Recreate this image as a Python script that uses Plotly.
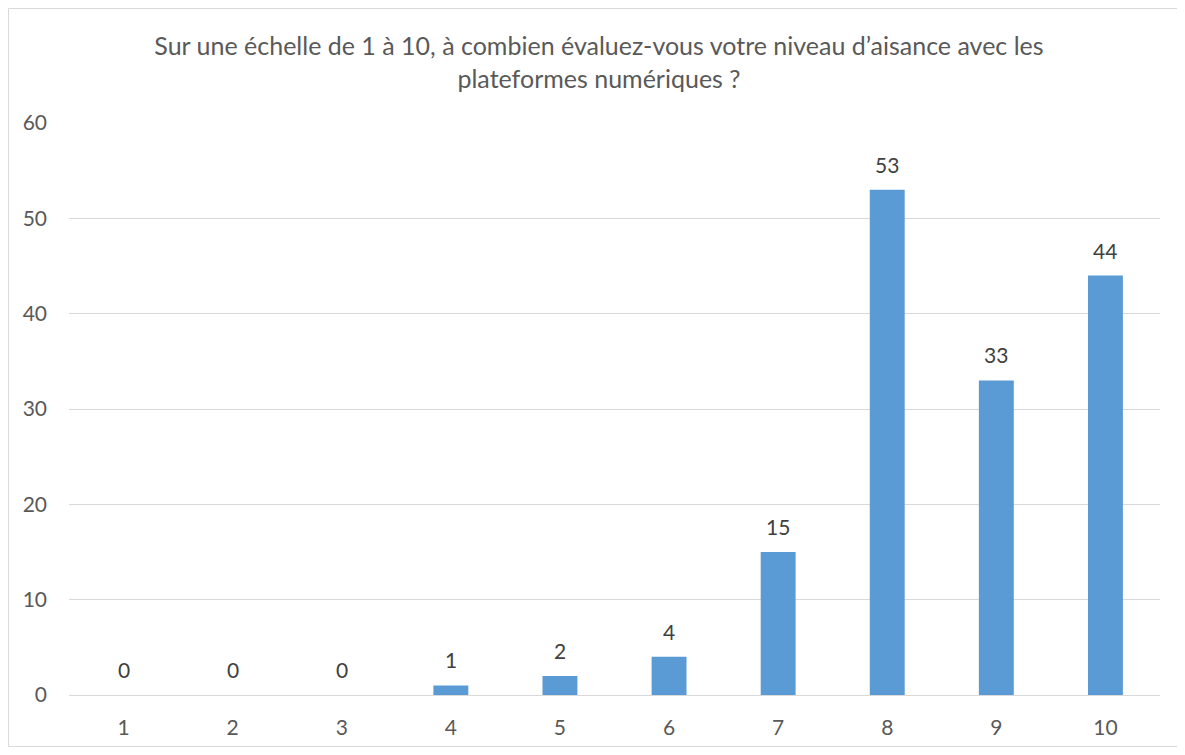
import plotly.graph_objects as go

categories = ["1", "2", "3", "4", "5", "6", "7", "8", "9", "10"]
values = [0, 0, 0, 1, 2, 4, 15, 53, 33, 44]
title_text = "Sur une échelle de 1 à 10, à combien évaluez-vous votre niveau d’aisance avec les<br>plateformes numériques ?"

W, H = 1174, 739
ml, mr, mt, mb = 61, 22, 115, 52
pw, ph = W - ml - mr, H - mt - mb

fig = go.Figure(go.Bar(
    x=categories, y=values,
    marker=dict(color="#5B9BD5", line=dict(width=0)),
    hoverinfo="x+y",
))

annotations = [
    dict(x=i, y=v, xref="x", yref="y", text=str(v), showarrow=False,
         yanchor="bottom", yshift=11,
         font=dict(family="Lato", size=21, color="#404040"))
    for i, v in enumerate(values)
]

fig.update_layout(
    width=W, height=H,
    margin=dict(l=ml, r=mr, t=mt, b=mb, autoexpand=False),
    paper_bgcolor="white", plot_bgcolor="white",
    bargap=0.68,
    showlegend=False,
    title=dict(text=title_text, x=(W / 2 + 4) / W, xanchor="center", y=1 - 47 / H, yanchor="top",
               font=dict(family="Lato", size=25, color="#595959")),
    font=dict(family="Lato", size=21, color="#595959"),
    xaxis=dict(type="category", range=[-0.5, 9.5], showgrid=False, showline=True,
               linecolor="#D9D9D9", linewidth=1, automargin=False,
               ticks="", ticklabelstandoff=14, tickfont=dict(size=21, color="#595959")),
    yaxis=dict(range=[0, 60], dtick=10, showgrid=True, gridcolor="#D9D9D9", gridwidth=1,
               zeroline=False, showline=False, ticks="", ticklabelstandoff=21, automargin=False,
               tickfont=dict(size=21, color="#595959")),
    annotations=annotations,
    shapes=[dict(type="rect", xref="paper", yref="paper",
                 x0=(0.5 - ml) / pw, x1=(W - 0.5 - ml) / pw,
                 y0=(H - mb - (H - 0.5)) / ph, y1=(H - mb - 0.5) / ph,
                 line=dict(color="#D9D9D9", width=1), fillcolor="rgba(0,0,0,0)", layer="below")],
)

fig.write_html("out.html")
